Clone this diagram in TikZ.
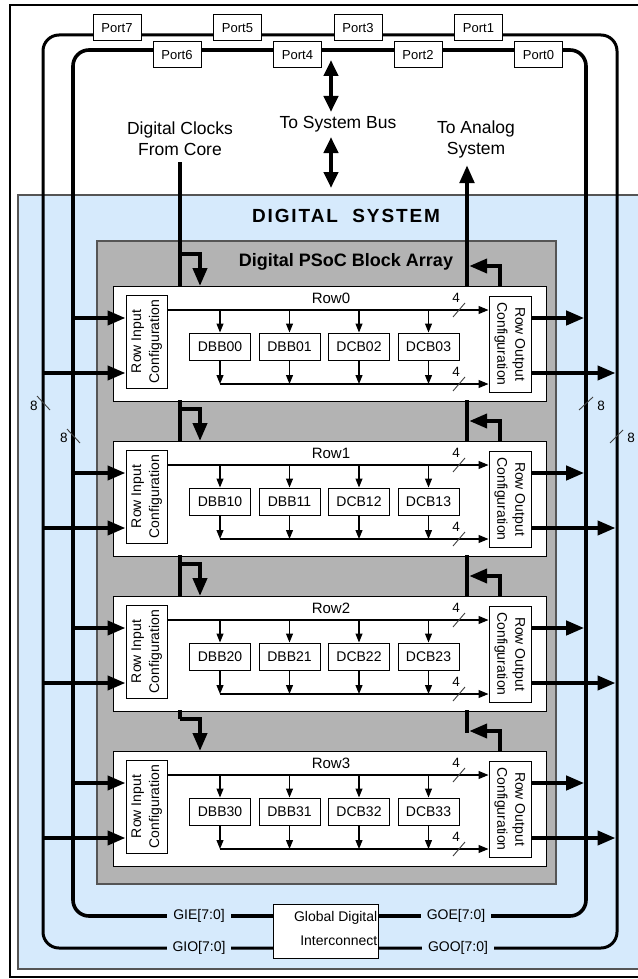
\documentclass[tikz,border=0pt]{standalone}
\usepackage{fontspec}
\setmainfont{Liberation Sans}
\usetikzlibrary{arrows.meta,positioning,calc}

\definecolor{systemBlue}{RGB}{214,234,252}
\definecolor{arrayGray}{RGB}{179,179,179}
\definecolor{edgeGray}{RGB}{85,85,85}

\tikzset{
	port/.style={draw,fill=white,line width=1pt,minimum width=48pt,minimum height=26pt,inner sep=0pt,font=\fontsize{13}{15}\selectfont},
	cell/.style={draw,fill=white,line width=1pt,minimum width=61pt,minimum height=27pt,inner sep=0pt,font=\fontsize{14}{15}\selectfont},
	rowbox/.style={draw,fill=white,line width=1.2pt,minimum width=433pt,minimum height=115pt,inner sep=0pt,anchor=north west},
	cfg/.style={draw,fill=white,line width=1pt,inner sep=0pt,font=\fontsize{14}{18}\selectfont},
	bus/.style={line width=3pt,rounded corners=16pt},
	fatline/.style={line width=4.5pt},
	fat/.style={line width=4pt,-{Triangle[length=18pt,width=14pt]}},
	dbl/.style={line width=4.5pt,{Triangle[length=16pt,width=14pt]}-{Triangle[length=16pt,width=14pt]}},
	thin/.style={line width=1.1pt,-{Triangle[length=10pt,width=8pt]}},
	drop/.style={line width=1.1pt,-{Triangle[length=9pt,width=7pt]}},
	tick/.style={line width=0.9pt,black!75},
	bigtext/.style={font=\fontsize{17.5}{21}\selectfont,align=center},
	small/.style={font=\fontsize{13.5}{15}\selectfont,inner sep=0pt},
	buslabel/.style={fill=systemBlue,inner xsep=6pt,inner ysep=2pt,font=\fontsize{14}{16}\selectfont}
}

\begin{document}
\begin{tikzpicture}[x=1pt,y=-1pt]%
	\useasboundingbox (0,0) rectangle (637,979);
	\draw[line width=2pt] (10,5) rectangle (645,977);
	\draw[fill=systemBlue,draw=edgeGray,line width=1.2pt] (18,195) rectangle (645,969);

	% the two port buses
	\draw[bus] (43,35) rectangle (617,948);
	\draw[bus,line width=3.6pt] (73,50) rectangle (586,916);
	\coordinate (gioBus) at (43,0);
	\coordinate (gieBus) at (73,0);
	\coordinate (goeBus) at (584.2,0);
	\coordinate (gooBus) at (615.5,0);

	\draw[fill=arrayGray,draw=edgeGray,line width=1.2pt] (97,241) rectangle (556,884);
	\node[font={\bfseries\fontsize{19}{21}\selectfont\addfontfeature{LetterSpace=10}}] (system) at (346,216) {DIGITAL\ \ SYSTEM};
	\node[font=\bfseries\fontsize{18}{20}\selectfont] (array) at (346,262) {Digital PSoC Block Array};

	\node[bigtext] (clk) at (180,139) {Digital Clocks\\From Core};
	\node[bigtext] (sysbus) at (338,124) {To System Bus};
	\node[bigtext] (analog) at (476,139) {To Analog\\System};
	\coordinate (clkTop) at (180,162);
	\coordinate (analogTip) at (467,165);
	\coordinate (busA) at (331,60);
	\coordinate (busB) at (331,112);
	\coordinate (busC) at (331,137);
	\coordinate (busD) at (331,188);
	\draw[dbl] (busA) -- (busB);
	\draw[dbl] (busC) -- (busD);

	\foreach \i in {0,...,3}{
		\pgfmathsetmacro{\T}{286+155*\i}
		\pgfmathsetmacro{\hi}{\T+24}
		\pgfmathsetmacro{\lo}{\T+98}
		\node[rowbox] (row\i) at (113,\T) {};
		\node[cfg,minimum width=41pt,minimum height=93pt] (rin\i) at (146.5,\T+55.5)
			{\rotatebox{90}{\begin{tabular}{@{}c@{}}Row Input\\Configuration\end{tabular}}};
		\node[cfg,minimum width=42pt,minimum height=96pt] (rout\i) at (510,\T+58)
			{\rotatebox{-90}{\begin{tabular}{@{}c@{}}Row Output\\Configuration\end{tabular}}};
		\node[font=\fontsize{15}{17}\selectfont] (lab\i) at (331,\T+12) {Row\i};
		\foreach \j/\kind in {0/DBB,1/DBB,2/DCB,3/DCB}{
			\node[cell] (c\i\j) at (220+69.5*\j,\T+60.5) {\kind\i\j};
			\draw[drop] (c\i\j.north |- 0,\hi) -- (c\i\j.north);
			\draw[drop] (c\i\j.south) -- (c\i\j.south |- 0,\lo);
		}
		\draw[thin] (rin\i.east |- 0,\hi) -- (rout\i.west |- 0,\hi);
		\draw[thin,-] (c\i0.south |- 0,\lo) -- (c\i3.south |- 0,\lo);
		\draw[thin] (c\i3.south |- 0,\lo) -- (rout\i.west |- 0,\lo);
		\foreach \y/\s in {\hi/a,\lo/b}{
			\draw[tick] (453,\y+7) -- (465,\y-7);
			\node[small] (w\i\s) at (456,\y-12) {4};
		}
		\draw[fat] (gieBus |- 0,\T+32) -- (rin\i.west |- 0,\T+32);
		\draw[fat] (gioBus |- 0,\T+87) -- (rin\i.west |- 0,\T+87);
		\draw[fat] (rout\i.east |- 0,\T+32) -- (goeBus |- 0,\T+32);
		\draw[fat] (rout\i.east |- 0,\T+87) -- (gooBus |- 0,\T+87);
		\draw[fat] (180,\T-32) -| (200,\T);
		\draw[fat] (500,\T) |- (469.2,\T-20);
	}

	\draw[fatline] (clkTop) -- (clkTop |- row0.north);
	\draw[fatline] (180,400) -- (180,441);
	\draw[fatline] (180,555) -- (180,596);
	\draw[fatline] (180,710) -- (180,719);
	\draw[fat,line width=4.5pt] (467,286) -- (analogTip);
	\draw[fatline] (467,400) -- (467,441);
	\draw[fatline] (467,555) -- (467,596);
	\draw[fatline] (467,710) -- (467,733);

	\draw[tick] (37,396) -- (50,410);
	\node[small] (w8a) at (34,406) {8};
	\draw[tick] (67,429) -- (80,443);
	\node[small] (w8b) at (64,438) {8};
	\draw[tick] (579,410) -- (593,397);
	\node[small] (w8c) at (601,406) {8};
	\draw[tick] (610,443) -- (623,430);
	\node[small] (w8d) at (631,438) {8};

	\foreach \n [count=\k from 0] in {7,5,3,1}
		\node[port] (port\n) at (117+120.5*\k,28) {Port\n};
	\foreach \n [count=\k from 0] in {6,4,2,0}
		\node[port] (port\n) at (177+120.5*\k,55) {Port\n};

	\node[draw,fill=white,line width=1pt,minimum width=105pt,minimum height=54pt,inner sep=0pt] (gdi) at (325.5,931) {};
	\node[font=\fontsize{14}{24}\selectfont,align=right,anchor=east,inner sep=1pt] (gditext) at ([yshift=3pt]gdi.east) {Global Digital\\Interconnect};
	\node[buslabel] (gie) at (199,916) {GIE[7:0]};
	\node[buslabel] (gio) at (199,948) {GIO[7:0]};
	\node[buslabel] (goe) at (456,916) {GOE[7:0]};
	\node[buslabel] (goo) at (458,948) {GOO[7:0]};
\end{tikzpicture}
\end{document}
